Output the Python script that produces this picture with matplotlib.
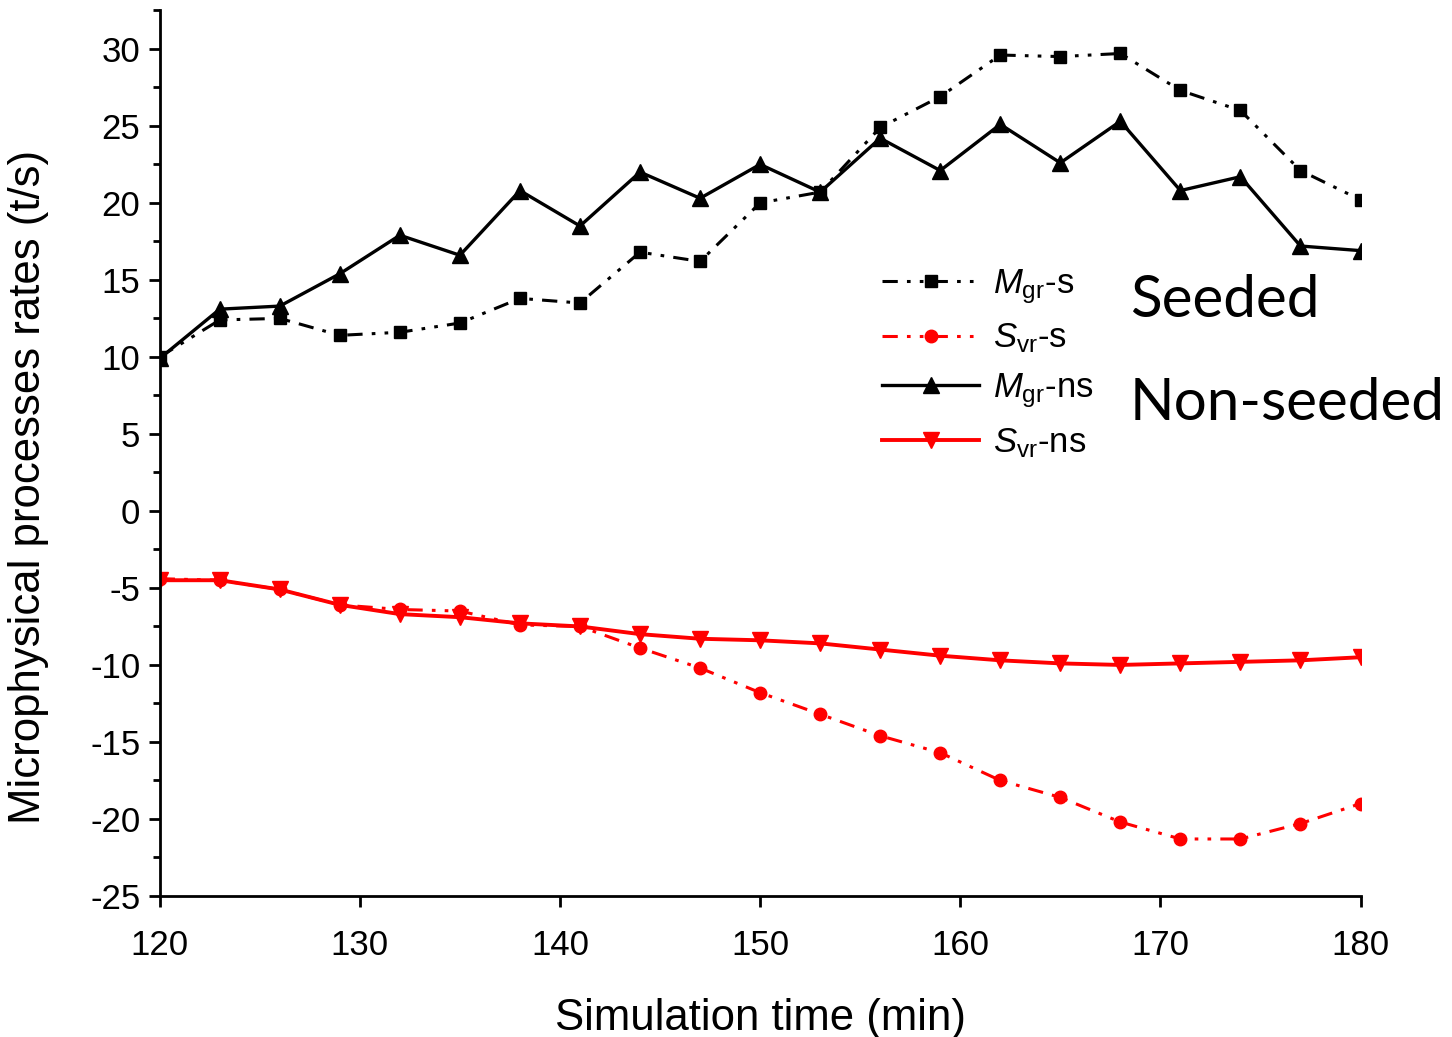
import matplotlib
matplotlib.use("Agg")
import matplotlib.pyplot as plt
from matplotlib.ticker import MultipleLocator

plt.rcParams['font.family'] = ['Liberation Sans', 'DejaVu Sans']
plt.rcParams['axes.unicode_minus'] = False
plt.rcParams['mathtext.fontset'] = 'custom'
plt.rcParams['mathtext.it'] = 'Liberation Sans:italic'
plt.rcParams['mathtext.rm'] = 'Liberation Sans'

# simulation time (min)
time = [120, 123, 126, 129, 132, 135, 138, 141, 144, 147, 150,
        153, 156, 159, 162, 165, 168, 171, 174, 177, 180]

# rates (t/s)
mgr_s = [10.0, 12.4, 12.5, 11.4, 11.6, 12.2, 13.8, 13.5, 16.8, 16.2, 20.0,
         20.7, 24.9, 26.9, 29.6, 29.5, 29.7, 27.3, 26.0, 22.1, 20.2]
svr_s = [-4.4, -4.5, -5.1, -6.1, -6.4, -6.5, -7.4, -7.5, -8.9, -10.2, -11.8,
         -13.2, -14.6, -15.7, -17.5, -18.6, -20.2, -21.3, -21.3, -20.3, -19.0]
mgr_ns = [9.9, 13.1, 13.3, 15.4, 17.9, 16.6, 20.8, 18.5, 22.0, 20.3, 22.5,
          20.7, 24.2, 22.1, 25.1, 22.6, 25.3, 20.8, 21.7, 17.2, 16.9]
svr_ns = [-4.5, -4.5, -5.1, -6.1, -6.7, -6.9, -7.3, -7.5, -8.0, -8.3, -8.4,
          -8.6, -9.0, -9.4, -9.7, -9.9, -10.0, -9.9, -9.8, -9.7, -9.5]

def main():
    fig = plt.figure(figsize=(14.52, 10.37), dpi=100)
    ax = fig.add_axes([0.110, 0.136, 0.827, 0.854])

    dd = (0, (5, 3, 1.2, 3, 1.2, 3))
    ax.plot(time, mgr_s, color='black', linestyle=dd, lw=2.2, marker='s', ms=8,
            label=r'$\mathit{M}_{\mathrm{gr}}$-s')
    ax.plot(time, svr_s, color='red', linestyle=dd, lw=2.2, marker='o', ms=9,
            label=r'$\mathit{S}_{\mathrm{vr}}$-s')
    ax.plot(time, mgr_ns, color='black', linestyle='-', lw=2.4, marker='^', ms=11,
            label=r'$\mathit{M}_{\mathrm{gr}}$-ns')
    ax.plot(time, svr_ns, color='red', linestyle='-', lw=2.8, marker='v', ms=11,
            label=r'$\mathit{S}_{\mathrm{vr}}$-ns')

    ax.set_xlim(120, 180)
    ax.set_ylim(-25, 32.5)
    ax.xaxis.set_major_locator(MultipleLocator(10))
    ax.yaxis.set_major_locator(MultipleLocator(5))
    ax.yaxis.set_minor_locator(MultipleLocator(2.5))
    ax.spines['top'].set_visible(False)
    ax.spines['right'].set_visible(False)
    ax.spines['left'].set_linewidth(2)
    ax.spines['bottom'].set_linewidth(2)
    ax.tick_params(which='major', direction='out', length=8, width=2, labelsize=25)
    ax.tick_params(axis='x', pad=16)
    ax.tick_params(axis='y', pad=6)
    ax.tick_params(which='minor', direction='out', length=5, width=2)

    ax.set_xlabel('Simulation time (min)', fontsize=31.5, labelpad=26)
    ax.set_ylabel('Microphysical processes rates (t/s)', fontsize=31.5)
    ax.yaxis.set_label_coords(-0.092, 0.462)

    ax.legend(loc='upper left', bbox_to_anchor=(0.59, 0.726), frameon=False,
              fontsize=25, handlelength=2.8, labelspacing=0.46,
              handletextpad=0.4, borderaxespad=0)

    ax.text(0.808, 0.672, 'Seeded', transform=ax.transAxes, fontsize=42,
            family=['Lato', 'DejaVu Sans'], va='center')
    ax.text(0.808, 0.556, 'Non-seeded', transform=ax.transAxes, fontsize=42,
            family=['Lato', 'DejaVu Sans'], va='center', clip_on=False)

    fig.savefig('out.png', dpi=100)

if __name__ == "__main__":
    main()
